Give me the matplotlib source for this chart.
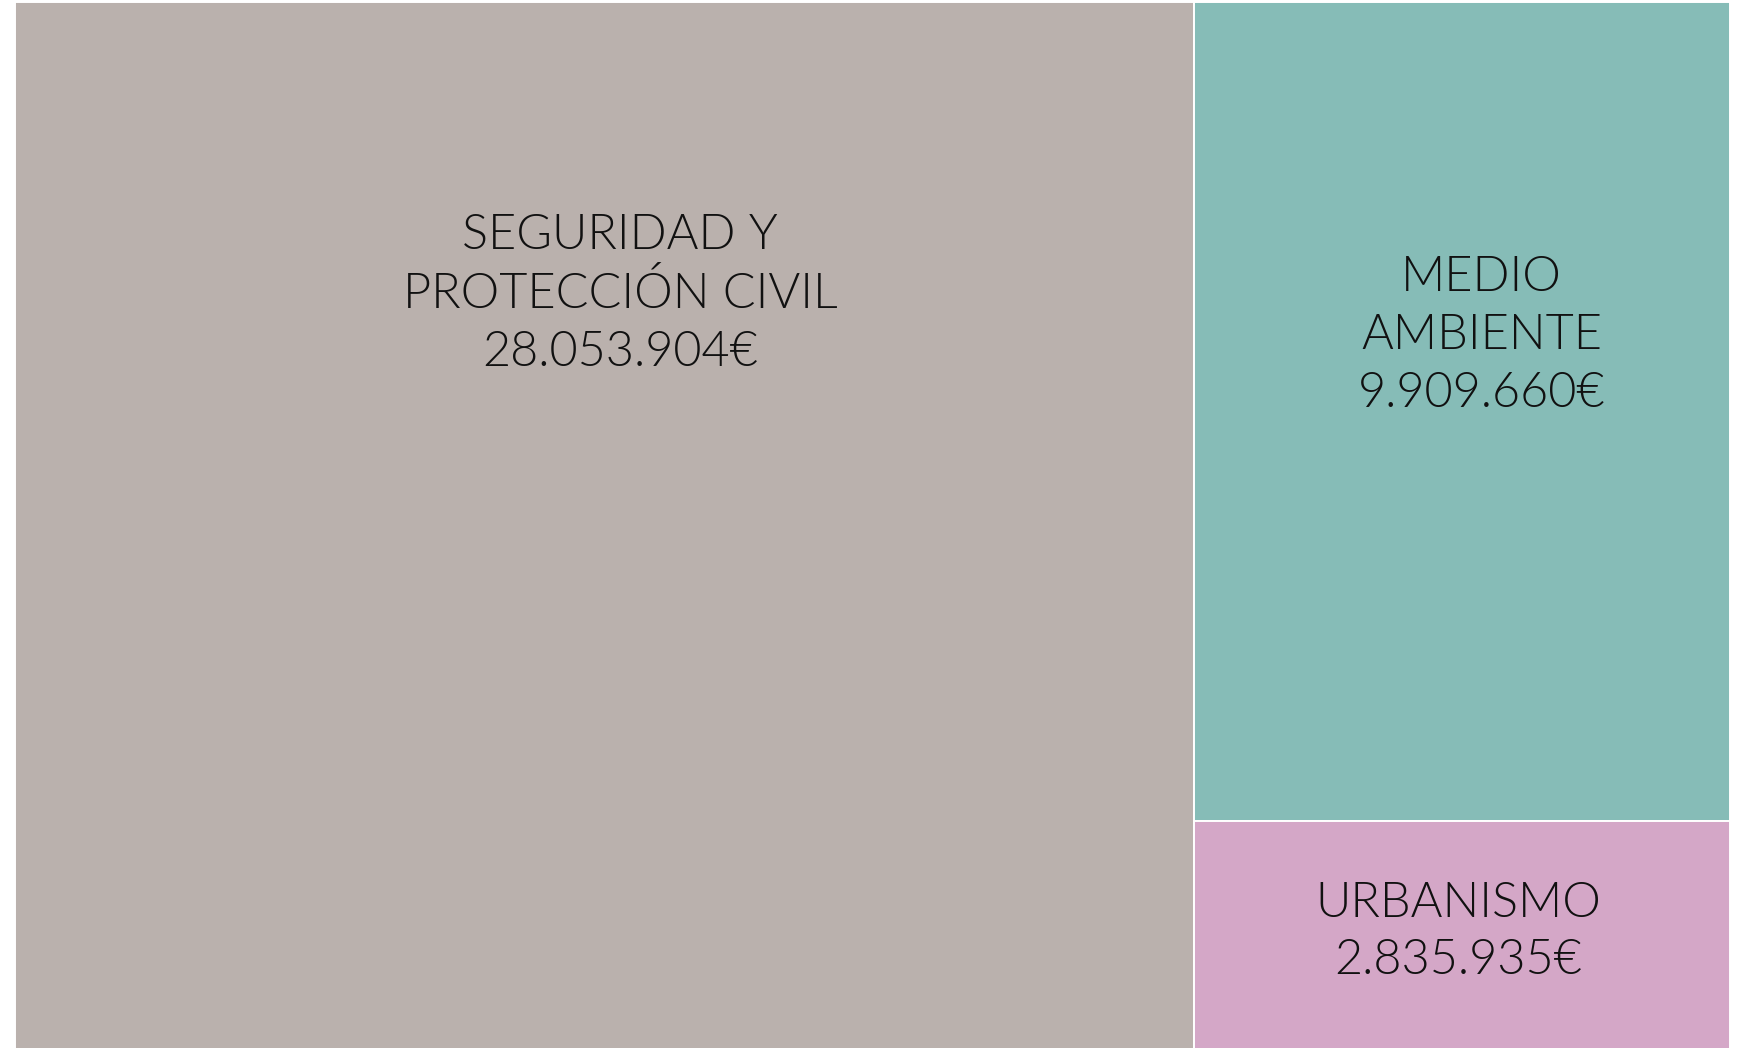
#!/usr/bin/env python3
"""Treemap of spending by area (three blocks)."""

import matplotlib.pyplot as plt
from matplotlib import font_manager
from matplotlib.font_manager import FontProperties
from matplotlib.patches import Rectangle

LABELS = ["SEGURIDAD Y\nPROTECCIÓN CIVIL", "MEDIO\nAMBIENTE", "URBANISMO"]
VALUES = [28053904, 9909660, 2835935]
COLORS = ["#bab1ad", "#86bcb7", "#d4a7c7"]

# label anchor inside each block, as fractions (x from left, y from top)
LABEL_POS = [(0.513, 0.277), (0.536, 0.407), (0.493, 0.475)]


def fmt_euro(v):
    return f"{v:,}".replace(",", ".") + "€"


def label_font(size):
    # prefer the Lato Light file itself, weight matching picks Hairline otherwise
    for f in font_manager.findSystemFonts():
        name = f.rsplit("/", 1)[-1].lower()
        if name.startswith("lato-light.") or name.startswith("lato-light "):
            return FontProperties(fname=f, size=size)
    return FontProperties(family="Lato", size=size)


def layout(values):
    """Biggest block takes a full-height column, the rest stack on the right."""
    total = sum(values)
    rects = [(0.0, 0.0, values[0], 1.0)]
    rest = sum(values[1:])
    x0 = values[0]
    w = total - values[0]
    top = 1.0
    for v in values[1:]:
        h = v / rest
        rects.append((x0, top - h, w, h))
        top -= h
    return rects, total


W, H = 1745, 1048
fig = plt.figure(figsize=(W / 100, H / 100), dpi=100)
ax = fig.add_axes([15 / W, -7 / H, (1730 - 15) / W, (1046 + 7) / H])

fp = label_font(35)
rects, total = layout(VALUES)
for (x, y, w, h), lab, val, col, (fx, fy) in zip(rects, LABELS, VALUES, COLORS, LABEL_POS):
    ax.add_patch(Rectangle((x, y), w, h, facecolor=col, edgecolor="white", linewidth=1.4))
    ax.text(x + fx * w, y + h - fy * h, f"{lab}\n{fmt_euro(val)}",
            ha="center", va="center", fontproperties=fp,
            color="#111111", linespacing=1.36)

ax.set_xlim(0, total)
ax.set_ylim(0, 1)
ax.axis("off")

fig.savefig("out.png", dpi=100)
